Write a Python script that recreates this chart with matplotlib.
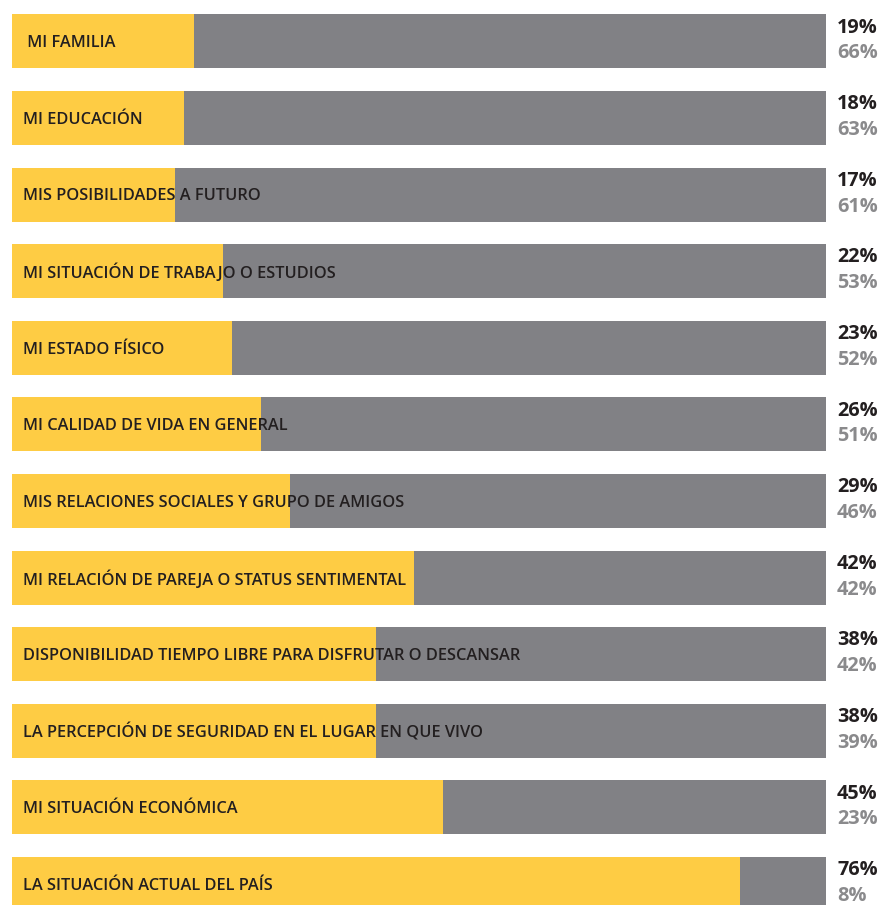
import matplotlib.pyplot as plt

# categorias y porcentajes
labels = [
    ' MI FAMILIA',
    'MI EDUCACIÓN',
    'MIS POSIBILIDADES A FUTURO',
    'MI SITUACIÓN DE TRABAJO O ESTUDIOS',
    'MI ESTADO FÍSICO',
    'MI CALIDAD DE VIDA EN GENERAL',
    'MIS RELACIONES SOCIALES Y GRUPO DE AMIGOS',
    'MI RELACIÓN DE PAREJA O STATUS SENTIMENTAL',
    'DISPONIBILIDAD TIEMPO LIBRE PARA DISFRUTAR O DESCANSAR',
    'LA PERCEPCIÓN DE SEGURIDAD EN EL LUGAR EN QUE VIVO',
    'MI SITUACIÓN ECONÓMICA',
    'LA SITUACIÓN ACTUAL DEL PAÍS',
]
empeoro = [19, 18, 17, 22, 23, 26, 29, 42, 38, 38, 45, 76]
mejoro = [66, 63, 61, 53, 52, 51, 46, 42, 42, 39, 23, 8]

YELLOW = '#fecc44'
GRAY = '#818185'
DARK = '#231f20'
LIGHT = '#8a8a8c'

plt.rcParams['font.family'] = ['Open Sans', 'DejaVu Sans']

W, H = 883, 905
fig = plt.figure(figsize=(W / 100, H / 100), dpi=100)
ax = fig.add_axes([12 / W, 0, 814 / W, 1])

# la barra completa es el total maximo
full = max(a + b for a, b in zip(empeoro, mejoro))
pos = list(range(len(labels)))
h = 54 / 76.6

ax.barh(pos, [full] * len(pos), height=h, color=GRAY, left=0)
ax.barh(pos, empeoro, height=h, color=YELLOW, left=0)

for i, (lab, a, b) in enumerate(zip(labels, empeoro, mejoro)):
    ax.annotate(lab, xy=(0, i), xytext=(8, -1.2), textcoords='offset points',
                va='center', ha='left', fontsize=11.8, fontweight='semibold',
                color=DARK)
    ax.annotate(f'{a}%', xy=(full, i), xytext=(8, 10), textcoords='offset points',
                va='center', ha='left', fontsize=14.3, fontweight='bold',
                color=DARK, annotation_clip=False)
    ax.annotate(f'{b}%', xy=(full, i), xytext=(8, -8.5), textcoords='offset points',
                va='center', ha='left', fontsize=14.3, fontweight='bold',
                color=LIGHT, annotation_clip=False)

ax.set_xlim(0, full)
ax.set_ylim((H - 41.5) / 76.6, -41.5 / 76.6)
ax.axis('off')

fig.savefig('out.png', dpi=100)
